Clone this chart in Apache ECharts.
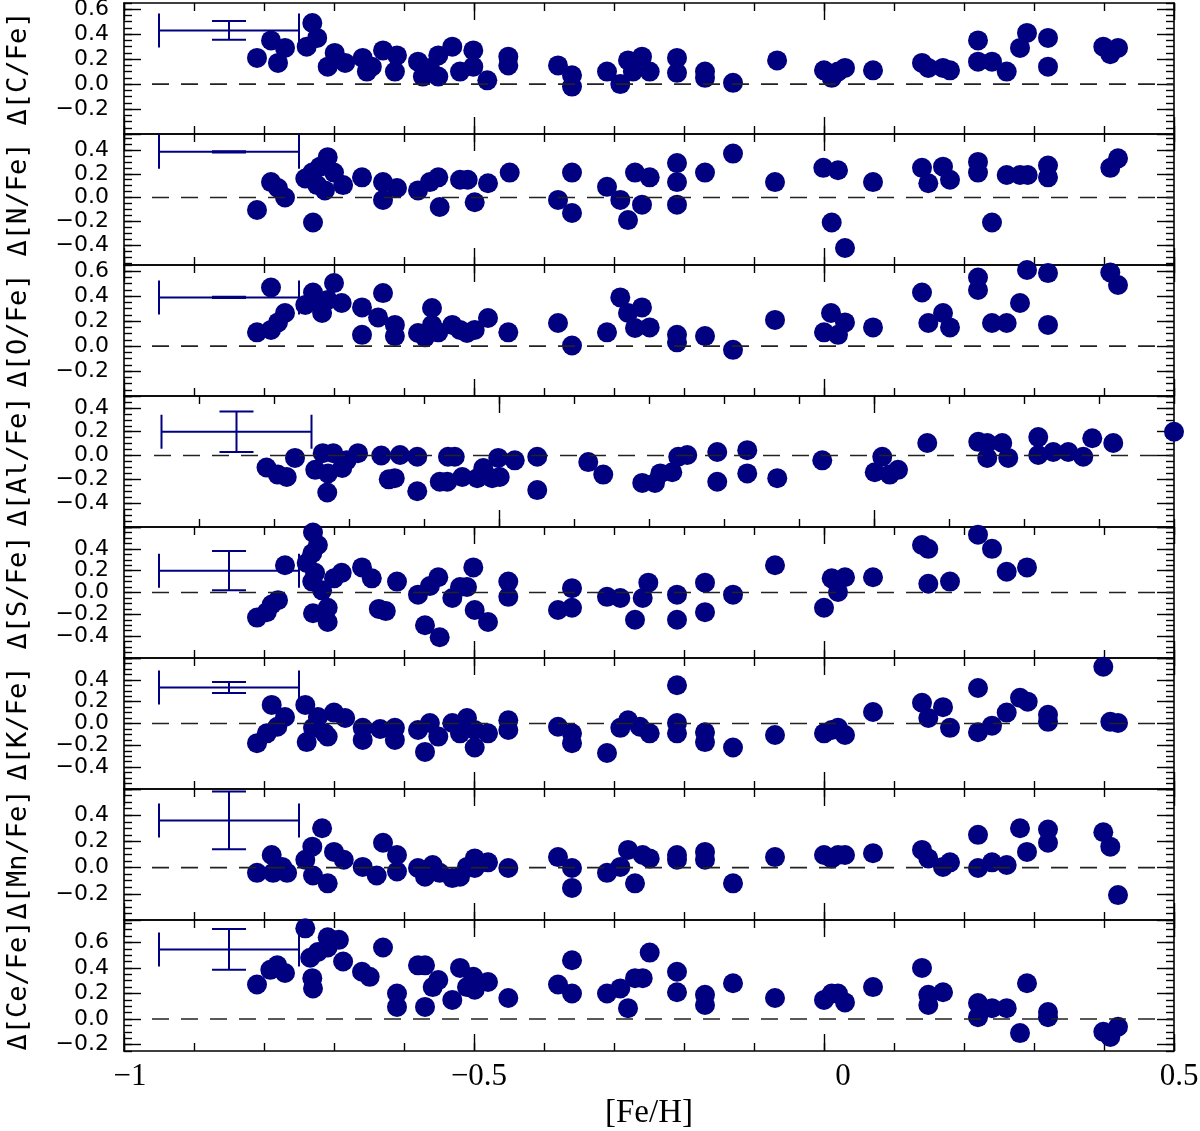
<!DOCTYPE html>
<html>
<head>
<meta charset="utf-8">
<script src="https://cdn.jsdelivr.net/npm/echarts@6/dist/echarts.min.js"></script>
<style>
html, body { margin: 0; padding: 0; background: #fff; }
#chart { width: 1200px; height: 1131px; }
</style>
</head>
<body>
<div id="chart"></div>
<script>
// [Fe/H] vs delta abundance
const cFe = [[-0.81, 0.21], [-0.79, 0.35], [-0.78, 0.17], [-0.77, 0.29], [-0.731, 0.49], [-0.739, 0.30], [-0.724, 0.37], [-0.709, 0.14], [-0.699, 0.25], [-0.684, 0.17], [-0.659, 0.21], [-0.653, 0.10], [-0.646, 0.14], [-0.63, 0.27], [-0.613, 0.10], [-0.61, 0.23], [-0.58, 0.18], [-0.573, 0.06], [-0.563, 0.13], [-0.551, 0.23], [-0.551, 0.06], [-0.531, 0.30], [-0.52, 0.10], [-0.501, 0.27], [-0.501, 0.14], [-0.481, 0.03], [-0.451, 0.22], [-0.451, 0.15], [-0.38, 0.15], [-0.36, 0.07], [-0.36, -0.02], [-0.31, 0.10], [-0.291, 0.0], [-0.28, 0.19], [-0.273, 0.10], [-0.26, 0.22], [-0.249, 0.10], [-0.21, 0.21], [-0.21, 0.09], [-0.17, 0.10], [-0.17, 0.05], [-0.13, 0.01], [-0.067, 0.19], [0.0, 0.11], [0.011, 0.05], [0.02, 0.10], [0.03, 0.13], [0.07, 0.11], [0.14, 0.17], [0.149, 0.13], [0.17, 0.13], [0.18, 0.11], [0.22, 0.35], [0.22, 0.18], [0.24, 0.18], [0.261, 0.10], [0.28, 0.29], [0.29, 0.41], [0.32, 0.37], [0.32, 0.14], [0.399, 0.30], [0.409, 0.24], [0.42, 0.29]];
const nFe = [[-0.81, -0.105], [-0.79, 0.13], [-0.78, 0.08], [-0.77, 0.0], [-0.73, -0.21], [-0.741, 0.16], [-0.731, 0.21], [-0.72, 0.26], [-0.709, 0.34], [-0.724, 0.105], [-0.713, 0.06], [-0.70, 0.21], [-0.687, 0.105], [-0.66, 0.17], [-0.63, 0.13], [-0.63, -0.02], [-0.61, 0.08], [-0.58, 0.06], [-0.563, 0.13], [-0.551, 0.17], [-0.549, -0.08], [-0.52, 0.15], [-0.509, 0.15], [-0.499, -0.04], [-0.48, 0.12], [-0.449, 0.21], [-0.38, -0.02], [-0.36, 0.21], [-0.36, -0.13], [-0.31, 0.09], [-0.291, -0.02], [-0.28, -0.19], [-0.27, 0.21], [-0.26, -0.06], [-0.249, 0.17], [-0.21, 0.29], [-0.21, 0.13], [-0.21, -0.06], [-0.17, 0.21], [-0.13, 0.37], [-0.07, 0.13], [-0.001, 0.25], [0.02, 0.23], [0.011, -0.21], [0.03, -0.425], [0.07, 0.13], [0.14, 0.25], [0.149, 0.12], [0.17, 0.26], [0.18, 0.15], [0.22, 0.30], [0.22, 0.21], [0.24, -0.21], [0.261, 0.19], [0.28, 0.19], [0.291, 0.19], [0.32, 0.27], [0.32, 0.17], [0.409, 0.25], [0.42, 0.33]];
const oFe = [[-0.81, 0.11], [-0.79, 0.47], [-0.79, 0.13], [-0.78, 0.19], [-0.77, 0.265], [-0.741, 0.33], [-0.73, 0.43], [-0.723, 0.35], [-0.717, 0.265], [-0.709, 0.37], [-0.70, 0.505], [-0.689, 0.345], [-0.66, 0.31], [-0.66, 0.09], [-0.637, 0.23], [-0.63, 0.425], [-0.613, 0.17], [-0.613, 0.08], [-0.58, 0.105], [-0.57, 0.07], [-0.56, 0.305], [-0.56, 0.17], [-0.551, 0.11], [-0.531, 0.17], [-0.52, 0.13], [-0.51, 0.105], [-0.499, 0.13], [-0.48, 0.225], [-0.451, 0.11], [-0.38, 0.185], [-0.36, 0.005], [-0.31, 0.11], [-0.291, 0.39], [-0.28, 0.265], [-0.26, 0.31], [-0.27, 0.145], [-0.249, 0.15], [-0.21, 0.09], [-0.21, 0.03], [-0.17, 0.08], [-0.13, -0.03], [-0.07, 0.21], [0.0, 0.11], [0.01, 0.265], [0.02, 0.09], [0.03, 0.19], [0.07, 0.15], [0.14, 0.43], [0.149, 0.185], [0.17, 0.265], [0.18, 0.15], [0.22, 0.55], [0.22, 0.45], [0.24, 0.185], [0.261, 0.185], [0.28, 0.345], [0.29, 0.61], [0.32, 0.585], [0.32, 0.17], [0.409, 0.59], [0.42, 0.49]];
// the Al panel has its own x range (-1 .. 0.4)
const alFe = [[-0.81, -0.10], [-0.795, -0.16], [-0.783, -0.18], [-0.772, -0.02], [-0.745, -0.12], [-0.735, 0.02], [-0.728, -0.15], [-0.729, -0.31], [-0.721, 0.02], [-0.709, -0.105], [-0.703, -0.04], [-0.688, 0.02], [-0.657, 0.0], [-0.647, -0.20], [-0.639, -0.19], [-0.632, 0.005], [-0.609, -0.01], [-0.609, -0.30], [-0.579, -0.22], [-0.569, -0.22], [-0.568, -0.01], [-0.559, -0.01], [-0.549, -0.18], [-0.529, -0.19], [-0.521, -0.105], [-0.509, -0.19], [-0.501, -0.02], [-0.499, -0.18], [-0.479, -0.04], [-0.449, -0.01], [-0.449, -0.29], [-0.381, -0.055], [-0.361, -0.16], [-0.309, -0.23], [-0.292, -0.23], [-0.285, -0.15], [-0.269, -0.14], [-0.261, -0.01], [-0.249, 0.005], [-0.209, 0.03], [-0.209, -0.22], [-0.169, 0.045], [-0.169, -0.15], [-0.129, -0.19], [-0.069, -0.04], [0.001, -0.14], [0.011, -0.01], [0.021, -0.16], [0.032, -0.12], [0.071, 0.105], [0.139, 0.115], [0.151, 0.105], [0.151, -0.02], [0.171, 0.105], [0.179, -0.02], [0.219, 0.155], [0.219, 0.005], [0.239, 0.03], [0.259, 0.03], [0.279, -0.01], [0.291, 0.145], [0.319, 0.105], [0.40, 0.20]];
const sFe = [[-0.81, -0.23], [-0.796, -0.18], [-0.789, -0.11], [-0.78, -0.07], [-0.77, 0.25], [-0.73, 0.55], [-0.723, 0.435], [-0.731, 0.36], [-0.739, 0.27], [-0.727, 0.18], [-0.731, 0.10], [-0.717, 0.02], [-0.73, -0.19], [-0.709, -0.14], [-0.709, -0.27], [-0.70, 0.13], [-0.689, 0.18], [-0.66, 0.23], [-0.646, 0.13], [-0.636, -0.15], [-0.626, -0.17], [-0.61, 0.10], [-0.58, -0.02], [-0.57, -0.30], [-0.563, 0.06], [-0.551, 0.14], [-0.549, -0.41], [-0.531, -0.05], [-0.52, 0.05], [-0.51, 0.05], [-0.501, 0.23], [-0.499, -0.16], [-0.48, -0.27], [-0.451, 0.10], [-0.451, -0.04], [-0.38, -0.16], [-0.36, 0.04], [-0.36, -0.14], [-0.31, -0.04], [-0.291, -0.05], [-0.27, -0.25], [-0.259, -0.05], [-0.251, 0.09], [-0.21, -0.02], [-0.21, -0.25], [-0.17, 0.09], [-0.17, -0.18], [-0.13, -0.02], [-0.07, 0.25], [0.0, -0.14], [0.011, 0.13], [0.02, 0.005], [0.03, 0.14], [0.07, 0.14], [0.14, 0.435], [0.149, 0.40], [0.149, 0.08], [0.18, 0.10], [0.22, 0.53], [0.24, 0.40], [0.261, 0.19], [0.29, 0.23]];
const kFe = [[-0.81, -0.18], [-0.789, 0.17], [-0.796, -0.09], [-0.781, -0.03], [-0.77, 0.06], [-0.741, 0.17], [-0.739, -0.17], [-0.73, -0.04], [-0.723, 0.06], [-0.713, -0.09], [-0.709, -0.12], [-0.70, 0.10], [-0.684, 0.05], [-0.659, -0.04], [-0.659, -0.15], [-0.634, -0.05], [-0.613, -0.04], [-0.613, -0.15], [-0.58, -0.06], [-0.57, -0.26], [-0.563, 0.005], [-0.551, -0.12], [-0.531, 0.005], [-0.52, -0.09], [-0.51, 0.05], [-0.499, -0.22], [-0.499, -0.06], [-0.48, -0.09], [-0.451, 0.03], [-0.451, -0.06], [-0.38, -0.03], [-0.36, -0.09], [-0.36, -0.18], [-0.31, -0.27], [-0.291, -0.04], [-0.28, 0.03], [-0.263, -0.03], [-0.249, -0.09], [-0.21, 0.35], [-0.21, 0.005], [-0.21, -0.09], [-0.17, -0.08], [-0.17, -0.17], [-0.13, -0.22], [-0.07, -0.105], [0.0, -0.09], [0.011, -0.06], [0.02, -0.04], [0.03, -0.105], [0.07, 0.105], [0.14, 0.19], [0.149, 0.05], [0.17, 0.15], [0.18, -0.04], [0.22, 0.325], [0.22, -0.08], [0.24, -0.02], [0.261, 0.10], [0.28, 0.235], [0.291, 0.20], [0.32, 0.08], [0.32, 0.015], [0.399, 0.52], [0.409, 0.015], [0.42, 0.005]];
const mnFe = [[-0.81, -0.04], [-0.789, 0.096], [-0.787, -0.04], [-0.774, 0.005], [-0.767, -0.04], [-0.741, 0.06], [-0.731, 0.16], [-0.717, 0.30], [-0.73, -0.06], [-0.709, -0.12], [-0.70, 0.12], [-0.686, 0.06], [-0.659, 0.005], [-0.639, -0.06], [-0.63, 0.19], [-0.61, 0.096], [-0.61, -0.03], [-0.58, -0.003], [-0.57, -0.07], [-0.559, 0.02], [-0.549, -0.04], [-0.531, -0.08], [-0.52, -0.07], [-0.51, 0.005], [-0.499, 0.07], [-0.499, -0.003], [-0.48, 0.04], [-0.451, -0.003], [-0.38, 0.08], [-0.36, -0.003], [-0.36, -0.155], [-0.31, -0.04], [-0.291, 0.005], [-0.28, 0.135], [-0.27, -0.12], [-0.259, 0.096], [-0.249, 0.07], [-0.21, 0.096], [-0.21, 0.06], [-0.17, 0.12], [-0.17, 0.06], [-0.13, -0.12], [-0.07, 0.08], [0.0, 0.096], [0.011, 0.07], [0.02, 0.096], [0.03, 0.096], [0.07, 0.11], [0.14, 0.135], [0.149, 0.07], [0.17, 0.005], [0.18, 0.04], [0.22, 0.25], [0.22, -0.003], [0.24, 0.04], [0.261, 0.02], [0.28, 0.30], [0.29, 0.12], [0.32, 0.29], [0.32, 0.19], [0.399, 0.27], [0.409, 0.16], [0.42, -0.21]];
const ceFe = [[-0.81, 0.27], [-0.791, 0.385], [-0.781, 0.42], [-0.77, 0.36], [-0.741, 0.71], [-0.731, 0.32], [-0.73, 0.24], [-0.734, 0.48], [-0.723, 0.525], [-0.709, 0.64], [-0.693, 0.62], [-0.709, 0.56], [-0.687, 0.45], [-0.66, 0.37], [-0.649, 0.33], [-0.63, 0.56], [-0.61, 0.20], [-0.61, 0.095], [-0.58, 0.42], [-0.57, 0.42], [-0.57, 0.095], [-0.559, 0.25], [-0.551, 0.305], [-0.531, 0.15], [-0.52, 0.40], [-0.51, 0.25], [-0.501, 0.33], [-0.499, 0.23], [-0.48, 0.29], [-0.451, 0.165], [-0.38, 0.27], [-0.36, 0.46], [-0.36, 0.20], [-0.31, 0.20], [-0.291, 0.24], [-0.28, 0.085], [-0.27, 0.32], [-0.259, 0.32], [-0.249, 0.52], [-0.21, 0.37], [-0.21, 0.21], [-0.17, 0.19], [-0.17, 0.11], [-0.13, 0.28], [-0.07, 0.165], [0.0, 0.15], [0.011, 0.20], [0.02, 0.20], [0.03, 0.13], [0.07, 0.25], [0.14, 0.40], [0.149, 0.19], [0.149, 0.11], [0.17, 0.21], [0.22, 0.125], [0.22, 0.015], [0.24, 0.085], [0.261, 0.085], [0.28, -0.11], [0.29, 0.28], [0.32, 0.055], [0.32, 0.015], [0.399, -0.10], [0.409, -0.14], [0.42, -0.06]];

// typical error bar per panel: [x, y, xerr, yerr]
const cErr = [-0.85, 0.43, 0.1, 0.075];
const nErr = [-0.85, 0.385, 0.1, 0.005];
const oErr = [-0.85, 0.39, 0.1, 0.005];
const alErr = [-0.85, 0.2, 0.1, 0.17];
const sErr = [-0.85, 0.2, 0.1, 0.18];
const kErr = [-0.85, 0.33, 0.1, 0.05];
const mnErr = [-0.85, 0.36, 0.1, 0.22];
const ceErr = [-0.85, 0.545, 0.1, 0.16];

// tick labels
const xLabels = [-1, -0.5, 0, 0.5];
const yLabelsA = [-0.2, 0, 0.2, 0.4, 0.6];
const yLabelsB = [-0.4, -0.2, 0, 0.2, 0.4];
const yLabelsMn = [-0.2, 0, 0.2, 0.4];

const panels = [
  { name: 'Δ[C/Fe]', data: cFe, err: cErr, xMax: 0.5, yMin: -0.4, yMax: 0.65, labels: yLabelsA },
  { name: 'Δ[N/Fe]', data: nFe, err: nErr, xMax: 0.5, yMin: -0.568, yMax: 0.535, labels: yLabelsB },
  { name: 'Δ[O/Fe]', data: oFe, err: oErr, xMax: 0.5, yMin: -0.4, yMax: 0.65, labels: yLabelsA },
  { name: 'Δ[Al/Fe]', data: alFe, err: alErr, xMax: 0.4, yMin: -0.6, yMax: 0.5, labels: yLabelsB },
  { name: 'Δ[S/Fe]', data: sFe, err: sErr, xMax: 0.5, yMin: -0.6, yMax: 0.6, labels: yLabelsB },
  { name: 'Δ[K/Fe]', data: kFe, err: kErr, xMax: 0.5, yMin: -0.6, yMax: 0.6, labels: yLabelsB },
  { name: 'Δ[Mn/Fe]', data: mnFe, err: mnErr, xMax: 0.5, yMin: -0.4, yMax: 0.6, labels: yLabelsMn },
  { name: 'Δ[Ce/Fe]', data: ceFe, err: ceErr, xMax: 0.5, yMin: -0.25, yMax: 0.775, labels: yLabelsA }
];

const NAVY = '#000080';
const PANEL_H = 131;

function steps (min, max, step) {
  let out = [];
  for (let k = Math.ceil(min / step - 1e-6); k * step <= max + 1e-6; k++) {
    out.push(+(k * step).toFixed(3));
  }
  return out;
}

function minus (v, digits) {
  let s = digits === undefined ? String(Math.abs(v)) : Math.abs(v).toFixed(digits);
  return (v < 0 ? '\u2212' : '') + s;
}

// the x labels in the original sit a little right of their ticks
function xLabel (v) {
  let key = v === -1 ? 'a' : v === -0.5 ? 'b' : v === 0 ? 'c' : 'd';
  return '{' + key + '|' + minus(v) + '}';
}
const xLabelFont = { color: '#000', fontFamily: 'Liberation Serif', fontSize: 31 };

function makeX (grid, pos, max, ticks, len, withLine, labels) {
  return {
    type: 'value',
    gridIndex: grid,
    position: pos,
    min: -1,
    max: max,
    axisLine: { show: withLine, onZero: false, lineStyle: { color: '#000', width: 1.6 } },
    axisTick: { show: true, inside: true, length: len, customValues: ticks, lineStyle: { color: '#000', width: 1.4 } },
    axisLabel: labels ? {
      show: true,
      customValues: labels,
      margin: 10,
      formatter: xLabel,
      rich: {
        a: Object.assign({ padding: [0, 0, 0, 12] }, xLabelFont),
        b: Object.assign({ padding: [0, 0, 0, 10] }, xLabelFont),
        c: Object.assign({ padding: [0, 0, 0, 38] }, xLabelFont),
        d: Object.assign({ padding: [0, 0, 0, 10] }, xLabelFont)
      }
    } : { show: false },
    name: labels ? '[Fe/H]' : '',
    nameLocation: 'middle',
    nameGap: 46,
    nameTextStyle: { color: '#000', fontFamily: 'Liberation Serif', fontSize: 33 },
    splitLine: { show: false }
  };
}

function makeY (grid, pos, p, ticks, len, withLine, withLabels) {
  return {
    type: 'value',
    gridIndex: grid,
    position: pos,
    min: p.yMin,
    max: p.yMax,
    axisLine: { show: withLine, onZero: false, lineStyle: { color: '#000', width: 1.6 } },
    axisTick: { show: true, inside: true, length: len, customValues: ticks, lineStyle: { color: '#000', width: 1.4 } },
    axisLabel: withLabels ? {
      show: true,
      customValues: p.labels,
      margin: 15,
      color: '#000',
      fontFamily: 'DejaVu Sans',
      fontSize: 22,
      formatter: v => minus(v, 1)
    } : { show: false },
    name: withLabels ? p.name : '',
    nameLocation: 'middle',
    nameRotate: 90,
    nameGap: 92,
    nameTextStyle: { color: '#000', fontFamily: 'DejaVu Sans Mono', fontSize: 27 },
    splitLine: { show: false }
  };
}

function errorBar (params, api) {
  let xc = api.value(0), yc = api.value(1), dx = api.value(2), dy = api.value(3);
  let l = api.coord([xc - dx, yc]), r = api.coord([xc + dx, yc]);
  let t = api.coord([xc, yc + dy]), b = api.coord([xc, yc - dy]);
  let cap = 17;
  let style = { stroke: NAVY, lineWidth: 2 };
  let seg = (x1, y1, x2, y2) => ({ type: 'line', shape: { x1: x1, y1: y1, x2: x2, y2: y2 }, style: style });
  return {
    type: 'group',
    children: [
      seg(l[0], l[1], r[0], r[1]),
      seg(l[0], l[1] - cap, l[0], l[1] + cap),
      seg(r[0], r[1] - cap, r[0], r[1] + cap),
      seg(t[0], t[1], b[0], b[1]),
      seg(t[0] - cap, t[1], t[0] + cap, t[1]),
      seg(b[0] - cap, b[1], b[0] + cap, b[1])
    ]
  };
}

let grids = [], xAxes = [], yAxes = [], series = [];
panels.forEach((p, i) => {
  grids.push({ left: 124, width: 1050, top: 3 + i * PANEL_H, height: PANEL_H, outerBoundsMode: 'none', containLabel: false });
  let last = i === panels.length - 1;
  let xMinor = steps(-1, p.xMax, 0.1);
  let xMajor = steps(-1, p.xMax, 0.5);
  let yMinor = steps(p.yMin, p.yMax, 0.05);
  let yMajor = steps(p.yMin, p.yMax, 0.2);
  let xi = xAxes.length;
  let yi = yAxes.length;
  xAxes.push(makeX(i, 'bottom', p.xMax, xMinor, 8, true, last ? xLabels : null));
  xAxes.push(makeX(i, 'bottom', p.xMax, xMajor, 17, false, null));
  xAxes.push(makeX(i, 'top', p.xMax, xMinor, 8, true, null));
  xAxes.push(makeX(i, 'top', p.xMax, xMajor, 17, false, null));
  yAxes.push(makeY(i, 'left', p, yMajor, 17, true, true));
  yAxes.push(makeY(i, 'left', p, yMinor, 8, false, false));
  yAxes.push(makeY(i, 'right', p, yMajor, 17, true, false));
  yAxes.push(makeY(i, 'right', p, yMinor, 8, false, false));

  series.push({
    type: 'scatter',
    xAxisIndex: xi,
    yAxisIndex: yi,
    data: p.data,
    symbol: 'circle',
    symbolSize: 20,
    clip: false,
    itemStyle: { color: NAVY, opacity: 1 },
    z: 2
  });
  series.push({
    type: 'line',
    xAxisIndex: xi,
    yAxisIndex: yi,
    data: [[-0.96, 0], [p.xMax, 0]],
    symbol: 'none',
    silent: true,
    lineStyle: { color: '#222', width: 1.6, type: [17, 12] },
    z: 3
  });
  series.push({
    type: 'custom',
    xAxisIndex: xi,
    yAxisIndex: yi,
    data: [p.err],
    renderItem: errorBar,
    silent: true,
    z: 4
  });
});

let chart = echarts.init(document.getElementById('chart'));
chart.setOption({
  backgroundColor: '#fff',
  animation: false,
  grid: grids,
  xAxis: xAxes,
  yAxis: yAxes,
  series: series
});
</script>
</body>
</html>
